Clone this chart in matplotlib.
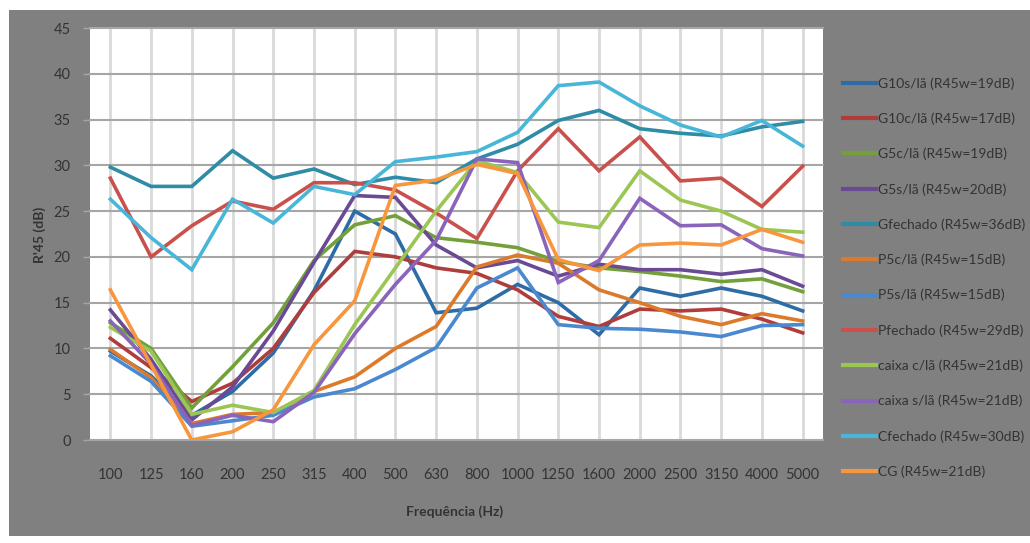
import matplotlib
matplotlib.use("Agg")
import matplotlib.pyplot as plt
from matplotlib.patches import Rectangle

plt.rcParams['font.family'] = ['Lato', 'DejaVu Sans']

freqs = ['100', '125', '160', '200', '250', '315', '400', '500', '630', '800',
         '1000', '1250', '1600', '2000', '2500', '3150', '4000', '5000']

g10s_sem_la = [9.7, 7.0, 2.7, 5.3, 9.5, 16.3, 25.0, 22.5, 13.9, 14.4, 17.0, 15.0, 11.5, 16.6, 15.7, 16.6, 15.7, 14.1]
g10c_com_la = [11.1, 7.9, 4.2, 6.2, 10.0, 16.1, 20.6, 20.0, 18.8, 18.2, 16.4, 13.5, 12.4, 14.3, 14.1, 14.3, 13.2, 11.7]
g5c_com_la = [12.8, 10.0, 3.5, 8.0, 12.8, 19.6, 23.5, 24.5, 22.1, 21.6, 21.0, 19.5, 18.8, 18.4, 17.9, 17.3, 17.6, 16.2]
g5s_sem_la = [14.2, 8.8, 2.2, 5.8, 11.9, 19.4, 26.7, 26.5, 21.3, 18.8, 19.6, 17.9, 19.2, 18.6, 18.6, 18.1, 18.6, 16.8]
gfechado = [29.8, 27.7, 27.7, 31.6, 28.6, 29.6, 27.9, 28.7, 28.1, 30.7, 32.3, 34.9, 36.0, 34.0, 33.5, 33.2, 34.2, 34.8]
p5c_com_la = [9.9, 6.8, 1.8, 2.8, 3.0, 5.3, 6.9, 10.0, 12.4, 18.9, 20.2, 19.3, 16.4, 15.0, 13.5, 12.6, 13.8, 13.0]
p5s_sem_la = [9.2, 6.4, 1.5, 2.1, 2.7, 4.7, 5.6, 7.7, 10.1, 16.6, 18.8, 12.6, 12.2, 12.1, 11.8, 11.3, 12.5, 12.6]
pfechado = [28.6, 20.0, 23.4, 26.1, 25.2, 28.1, 28.1, 27.3, 24.8, 22.0, 29.4, 34.0, 29.4, 33.1, 28.3, 28.6, 25.5, 29.9]
caixa_com_la = [12.3, 9.7, 2.8, 3.8, 3.0, 5.4, 12.6, 18.8, 25.0, 30.5, 29.2, 23.8, 23.2, 29.4, 26.2, 25.0, 23.0, 22.7]
caixa_sem_la = [13.0, 8.3, 1.6, 2.7, 2.0, 5.2, 11.6, 17.0, 21.8, 30.7, 30.3, 17.2, 19.6, 26.4, 23.4, 23.5, 20.9, 20.1]
cfechado = [26.3, 22.1, 18.6, 26.3, 23.7, 27.7, 26.8, 30.4, 30.9, 31.5, 33.6, 38.7, 39.1, 36.5, 34.4, 33.1, 34.9, 32.1]
cg = [16.4, 8.2, 0.0, 0.9, 3.3, 10.4, 15.2, 27.8, 28.4, 30.1, 29.1, 19.7, 18.5, 21.3, 21.5, 21.3, 23.0, 21.6]

labels = ['G10s/lã (R45w=19dB)', 'G10c/lã (R45w=17dB)', 'G5c/lã (R45w=19dB)',
          'G5s/lã (R45w=20dB)', 'Gfechado (R45w=36dB)', 'P5c/lã (R45w=15dB)',
          'P5s/lã (R45w=15dB)', 'Pfechado (R45w=29dB)', 'caixa c/lã (R45w=21dB)',
          'caixa s/lã (R45w=21dB)', 'Cfechado (R45w=30dB)', 'CG (R45w=21dB)']
series = [g10s_sem_la, g10c_com_la, g5c_com_la, g5s_sem_la, gfechado, p5c_com_la,
          p5s_sem_la, pfechado, caixa_com_la, caixa_sem_la, cfechado, cg]
colors = ['#2E6CA6', '#AE3D3B', '#73A03A', '#6A4A94', '#2E8CA6', '#DC7A2C',
          '#4A89CF', '#C9504C', '#9BC653', '#8A64BA', '#48B6D8', '#F8963D']

W, H = 1030, 543
fig = plt.figure(figsize=(W / 100, H / 100), dpi=100, facecolor='white')
fig.patches.append(Rectangle((9 / W, 1 - 536 / H), (W - 9) / W, (536 - 10) / H,
                             transform=fig.transFigure, facecolor='#808080',
                             edgecolor='none', zorder=-10))

ax = fig.add_axes([90 / W, 1 - 440 / H, (823 - 90) / W, (440 - 28) / H])
ax.set_zorder(1)
ax.set_facecolor('white')
x = list(range(len(freqs)))

for xi in x:
    ax.axvline(xi, color='#d9d9d9', lw=2.0, zorder=1)
for yv in range(0, 50, 5):
    ax.axhline(yv, color='#a6a6a6', lw=1.5, zorder=1, clip_on=False)

for vals, lab, col in zip(series, labels, colors):
    ax.plot(x, vals, color=col, lw=2.6, label=lab, zorder=3, solid_joinstyle='miter')

ax.set_xlim(-0.5, len(freqs) - 0.5)
ax.set_ylim(0, 45)
ax.set_yticks(range(0, 50, 5))
ax.set_xticks(x)
ax.set_xticklabels(freqs)
for s in ax.spines.values():
    s.set_visible(False)
ax.tick_params(axis='y', length=5, width=1, color='#a6a6a6', pad=9,
               labelsize=10.5, labelcolor='#333333')
ax.tick_params(axis='x', length=0, pad=20, labelsize=10.5, labelcolor='#333333')

fig.text(40 / W, 1 - 235 / H, "R'45 (dB)", rotation=90, ha='center', va='center',
         fontsize=10, fontweight='bold', color='#333333')
fig.text(455 / W, 1 - 512 / H, 'Frequência (Hz)', ha='center', va='center',
         fontsize=10, fontweight='bold', color='#333333')

leg = fig.legend(loc='upper left', bbox_to_anchor=(843 / W, 1 - 77 / H),
                 bbox_transform=fig.transFigure, frameon=False, fontsize=10,
                 handlelength=2.4, handletextpad=0.1, labelspacing=1.64,
                 borderpad=0, borderaxespad=0)
for t in leg.get_texts():
    t.set_color('#333333')
for l in leg.get_lines():
    l.set_linewidth(3)

fig.savefig('out.png', dpi=100, facecolor='white')
